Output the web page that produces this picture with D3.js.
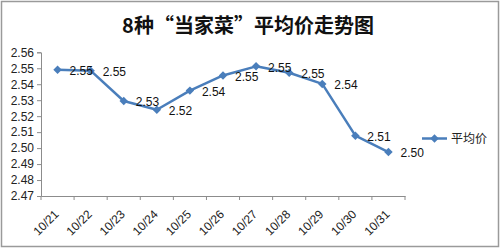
<!DOCTYPE html>
<html>
<head>
<meta charset="utf-8">
<script src="https://cdn.jsdelivr.net/npm/d3@7"></script>
<style>
  body { margin: 0; background: #fff; }
  svg { display: block; font-family: "Liberation Sans", Arial, sans-serif; }
</style>
</head>
<body>
<div id="chart"></div>
<script>
// 8种当家菜 average price line chart

const width = 500,
    height = 248,
    margin = ({ top: 52, right: 95, bottom: 52, left: 41 });

const dates = ["10/21", "10/22", "10/23", "10/24", "10/25", "10/26", "10/27", "10/28", "10/29", "10/30", "10/31"];
const prices = [2.549, 2.5485, 2.5295, 2.524, 2.536, 2.5455, 2.5512, 2.5472, 2.5402, 2.5078, 2.4975];
const yTicks = [2.47, 2.48, 2.49, 2.50, 2.51, 2.52, 2.53, 2.54, 2.55, 2.56];
const seriesName = "平均价";

const lineColor = "#4a7ebb",
    axisColor = "#8c8c8c";

const svg = d3.select("#chart")
    .append("svg")
    .attr("width", width)
    .attr("height", height)
    .attr("viewBox", [0, 0, width, height]);

// outer frame
svg.append("rect")
    .attr("x", 1.5).attr("y", 1.5)
    .attr("width", width - 3).attr("height", height - 3)
    .attr("fill", "none")
    .attr("stroke", "#9a9a9a")
    .attr("stroke-width", 1.5);

svg.append("text")
    .attr("x", 248)
    .attr("y", 33)
    .attr("text-anchor", "middle")
    .attr("font-family", "'Noto Sans CJK SC', sans-serif")
    .attr("font-weight", "bold")
    .attr("font-size", 20)
    .attr("fill", "#111")
    .text("8种“当家菜”平均价走势图");

const x = d3.scaleBand()
    .domain(dates)
    .range([margin.left, 405]);

const y = d3.scaleLinear()
    .domain([2.47, 2.56])
    .range([196, 52.3]);

// y axis
const yAxis = svg.append("g")
    .attr("transform", `translate(${margin.left},0)`)
    .call(d3.axisLeft(y).tickValues(yTicks).tickSize(4).tickPadding(3).tickFormat(d3.format(".2f")));

// x axis with ticks on the category boundaries
const xAxis = svg.append("g")
    .attr("transform", `translate(0,${y(2.47)})`)
    .call(d3.axisBottom(x).tickSize(0).tickFormat(""));

xAxis.selectAll(".bound")
    .data(d3.range(dates.length + 1))
    .join("line")
    .attr("class", "bound")
    .attr("x1", i => margin.left + i * x.step())
    .attr("x2", i => margin.left + i * x.step())
    .attr("y1", 0)
    .attr("y2", 4);

[yAxis, xAxis].forEach(g => {
    g.select(".domain").attr("stroke", axisColor);
    g.selectAll("line").attr("stroke", axisColor);
    g.selectAll("text")
        .attr("font-size", 12)
        .attr("fill", "#222")
        .attr("font-family", "'Liberation Sans', Arial, sans-serif");
});

// rotated date labels
svg.append("g")
    .selectAll("text")
    .data(dates)
    .join("text")
    .attr("transform", d => `translate(${x(d) + x.bandwidth() / 2 - 1},${y(2.47) + 16}) rotate(-45)`)
    .attr("text-anchor", "end")
    .attr("dy", "0.35em")
    .attr("font-size", 12)
    .attr("fill", "#222")
    .text(d => d);

const cx = (d, i) => x(dates[i]) + x.bandwidth() / 2;

const line = d3.line()
    .x((d, i) => cx(d, i))
    .y(d => y(d));

svg.append("path")
    .datum(prices)
    .attr("fill", "none")
    .attr("stroke", lineColor)
    .attr("stroke-width", 2.5)
    .attr("stroke-linejoin", "round")
    .attr("d", line);

// diamond markers
svg.append("g")
    .selectAll("path")
    .data(prices)
    .join("path")
    .attr("transform", (d, i) => `translate(${cx(d, i)},${y(d)}) rotate(45)`)
    .attr("d", d3.symbol().type(d3.symbolSquare).size(36))
    .attr("fill", lineColor);

// value labels
svg.append("g")
    .selectAll("text")
    .data(prices)
    .join("text")
    .attr("x", (d, i) => cx(d, i) + 12)
    .attr("y", d => y(d) + 1)
    .attr("dy", "0.35em")
    .attr("font-size", 12)
    .attr("fill", "#111")
    .text(d => d.toFixed(2));

// legend
const legend = svg.append("g")
    .attr("transform", "translate(422,138.5)");

legend.append("line")
    .attr("x1", 0).attr("x2", 25)
    .attr("stroke", lineColor)
    .attr("stroke-width", 2.5);

legend.append("path")
    .attr("transform", "translate(12.5,0) rotate(45)")
    .attr("d", d3.symbol().type(d3.symbolSquare).size(36))
    .attr("fill", lineColor);

legend.append("text")
    .attr("x", 29)
    .attr("dy", "0.35em")
    .attr("font-family", "'Noto Sans CJK SC', sans-serif")
    .attr("font-size", 12)
    .attr("fill", "#222")
    .text(seriesName);
</script>
</body>
</html>
